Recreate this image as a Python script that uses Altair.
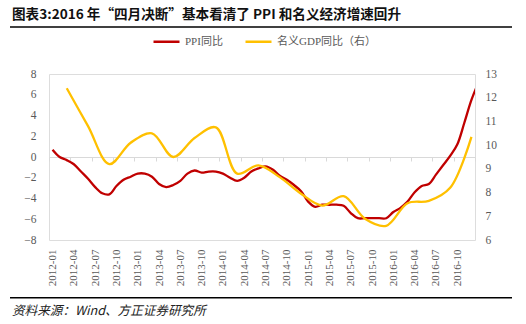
import altair as alt
import pandas as pd

# ---------------- data ----------------
months = [f"{y}-{m:02d}" for y in range(2012, 2017) for m in range(1, 13)]
ppi_months = months + ["2017-01"]
ppi_values = [
    0.7, 0.0, -0.3, -0.7, -1.4, -2.1, -2.9, -3.5, -3.6, -2.8, -2.2, -1.9,
    -1.6, -1.6, -1.9, -2.6, -2.9, -2.7, -2.3, -1.6, -1.3, -1.5, -1.4, -1.4,
    -1.6, -2.0, -2.3, -2.0, -1.4, -1.1, -0.9, -1.2, -1.8, -2.2, -2.7, -3.3,
    -4.3, -4.8, -4.6, -4.6, -4.6, -4.7, -5.4, -5.9, -5.9, -5.9, -5.9, -5.9,
    -5.3, -4.9, -4.3, -3.4, -2.8, -2.6, -1.7, -0.8, 0.1, 1.2, 3.3, 5.5,
    7.2,
]
gdp_months = [f"{y}-{m:02d}" for y in range(2012, 2017) for m in (3, 6, 9, 12)]
gdp_values = [
    12.4, 10.8, 9.2, 10.1,
    10.5, 9.5, 10.3, 10.75,
    8.8, 9.15, 8.65, 7.95,
    7.45, 7.85, 6.9, 6.6,
    7.55, 7.65, 8.2, 10.35,
]
label_months = months[::3]

S_PPI = "PPI同比"
S_GDP = "名义GDP同比（右）"
TITLE = "图表3:2016 年“四月决断”基本看清了 PPI 和名义经济增速回升"
SOURCE = "资料来源：Wind、方正证券研究所"


def pos(m):
    y, mm = m.split("-")
    return (int(y) - 2012) * 12 + int(mm) - 1 + 0.5


ppi_df = pd.DataFrame({"t": [pos(m) for m in ppi_months], "v": ppi_values, "series": S_PPI})
gdp_df = pd.DataFrame({"t": [pos(m) for m in gdp_months], "v": gdp_values, "series": S_GDP})

# ---------------- style ----------------
W, H = 426, 166
SERIF = "Liberation Serif, Noto Sans CJK SC, serif"
CJK = "Noto Sans CJK SC, sans-serif"
GRAY = "#595959"
LIGHT = "#d9d9d9"

xscale = alt.Scale(domain=[0, 60], nice=False, zero=False)
label_expr = "[" + ",".join(f"'{m}'" for m in months) + "][floor(datum.value)]"

color = alt.Color(
    "series:N",
    scale=alt.Scale(domain=[S_PPI, S_GDP], range=["#C00000", "#FFC000"]),
    legend=alt.Legend(
        orient="none", legendX=103, legendY=-47, direction="horizontal", title=None,
        symbolType="stroke", symbolSize=676, symbolStrokeWidth=2.5,
        labelFont=SERIF, labelFontSize=11, labelColor=GRAY, labelOffset=4,
        columnPadding=17, padding=0,
    ),
)

ppi_line = alt.Chart(ppi_df).mark_line(strokeWidth=2.3, interpolate="catmull-rom", clip=True).encode(
    x=alt.X("t:Q", scale=xscale, axis=alt.Axis(
        orient="bottom", values=list(range(0, 61, 3)), labels=False, ticks=True, tickSize=4,
        tickColor=LIGHT, domainColor=LIGHT, domainWidth=1, grid=False, offset=-H / 2, title=None)),
    y=alt.Y("v:Q", scale=alt.Scale(domain=[-8, 8], nice=False), axis=alt.Axis(
        orient="left", values=list(range(-8, 9, 2)), domain=False, ticks=False, grid=False,
        labelPadding=13, labelFont=SERIF, labelFontSize=11.5, labelColor=GRAY, title=None)),
    color=color,
)

gdp_line = alt.Chart(gdp_df).mark_line(strokeWidth=2.3, interpolate="catmull-rom").encode(
    x=alt.X("t:Q", scale=xscale, axis=alt.Axis(
        orient="bottom", values=[pos(m) for m in label_months], labelExpr=label_expr,
        labelAngle=270, domain=False, ticks=False, grid=False, labelPadding=9,
        labelFlush=False, labelOverlap=False, labelFont=SERIF, labelFontSize=11,
        labelColor=GRAY, title=None)),
    y=alt.Y("v:Q", scale=alt.Scale(domain=[6, 13], nice=False), axis=alt.Axis(
        orient="right", values=list(range(6, 14)), domain=False, ticks=False, grid=False,
        labelPadding=10, labelFont=SERIF, labelFontSize=11.5, labelColor=GRAY, title=None)),
    color=color,
)

one = pd.DataFrame({"k": [0]})
top_rule = alt.Chart(one).mark_rect(color="black").encode(
    x=alt.value(-39), x2=alt.value(463), y=alt.value(-47.8), y2=alt.value(-46.3))
bottom_rule = alt.Chart(one).mark_rect(color="black").encode(
    x=alt.value(-39), x2=alt.value(463), y=alt.value(223), y2=alt.value(224.5))
title = alt.Chart(one).mark_text(
    text=TITLE, font=CJK, fontSize=13.6, fontWeight="bold", align="left", baseline="middle",
    color="#111111").encode(x=alt.value(-37), y=alt.value(-59))
source = alt.Chart(one).mark_text(
    text=SOURCE, font=CJK, fontStyle="italic", fontSize=12.6, align="left", baseline="middle",
    color="#222222").encode(x=alt.value(-37), y=alt.value(237))

chart = alt.layer(ppi_line, gdp_line, top_rule, bottom_rule, title, source).resolve_scale(
    y="independent"
).resolve_axis(x="independent", y="independent").properties(
    width=W, height=H,
    autosize=alt.AutoSizeParams(type="none"),
    padding={"left": 49, "top": 74, "right": 51, "bottom": 84},
).configure_view(stroke=None).configure(background="white")

chart.save("out.html", embed_options={"renderer": "svg", "actions": False})
